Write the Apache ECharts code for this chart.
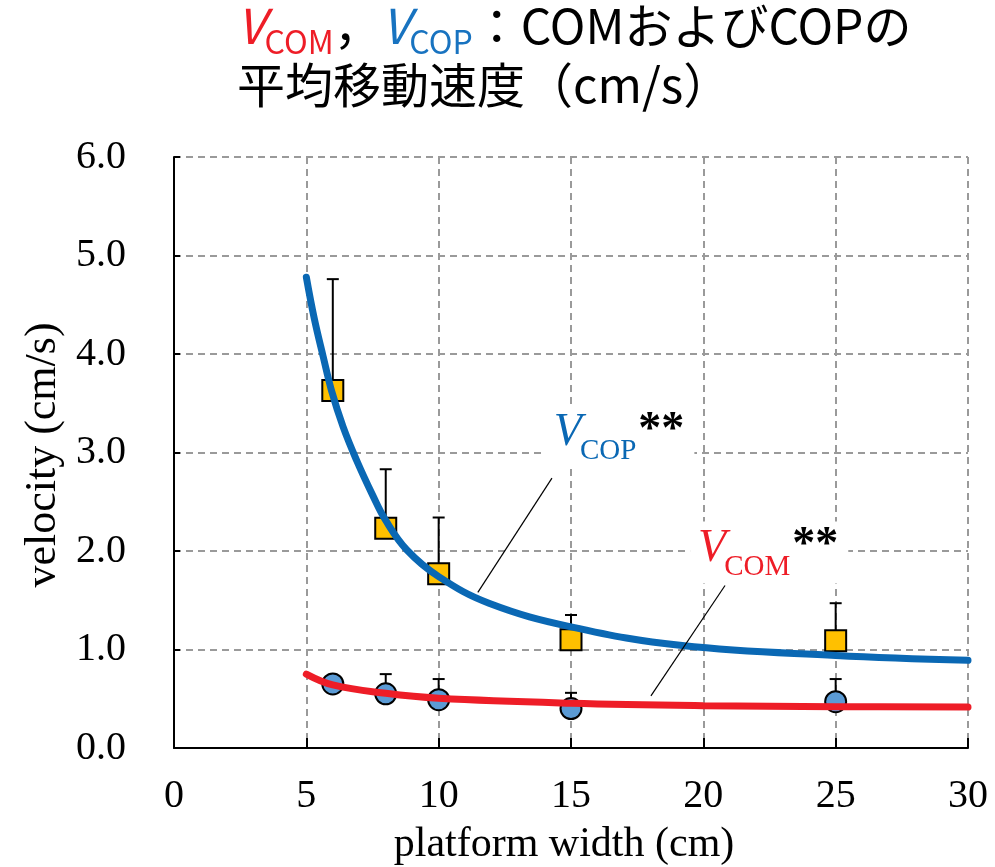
<!DOCTYPE html>
<html>
<head>
<meta charset="utf-8">
<script src="https://cdn.jsdelivr.net/npm/echarts@6/dist/echarts.min.js"></script>
<style>
  html, body { margin: 0; padding: 0; background: #fff; }
  #main { width: 995px; height: 867px; }
</style>
</head>
<body>
<div id="main"></div>
<script>
// platform width (cm) and measured velocities (cm/s)
var widths = [6, 8, 10, 15, 25];
var copMean = [3.63, 2.23, 1.77, 1.10, 1.09];
var copUpper = [4.76, 2.83, 2.34, 1.35, 1.47];
var comMean = [0.65, 0.55, 0.49, 0.40, 0.47];
var comUpper = [0.73, 0.75, 0.70, 0.56, 0.70];

// fitted curves
var copFitX = [5, 5.3, 5.64, 5.95, 6.39, 6.9, 7.5, 8.0, 8.8, 10.0, 11.9, 15.0, 19.2, 25.0, 30];
var copFitY = [4.78, 4.36, 3.97, 3.63, 3.26, 2.92, 2.57, 2.31, 2.01, 1.74, 1.47, 1.23, 1.04, 0.94, 0.89];
var comFitX = [5, 6, 8, 10, 15, 20, 25, 30];
var comFitY = [0.75, 0.64, 0.555, 0.505, 0.455, 0.43, 0.42, 0.415];

var xMin = 0, xMax = 30, xStep = 5;
var yMin = 0, yMax = 6, yStep = 1;

var chart = echarts.init(document.getElementById('main'));

function zip(a, b, c) {
    return a.map(function (v, i) { return c ? [v, b[i], c[i]] : [v, b[i]]; });
}

function renderErr(params, api) {
    var x = api.value(0);
    var lo = api.coord([x, api.value(1)]);
    var hi = api.coord([x, api.value(2)]);
    var st = { stroke: '#000', lineWidth: 2 };
    return {
        type: 'group',
        children: [
            { type: 'line', shape: { x1: lo[0], y1: lo[1], x2: hi[0], y2: hi[1] }, style: st },
            { type: 'line', shape: { x1: hi[0] - 6, y1: hi[1], x2: hi[0] + 6, y2: hi[1] }, style: st }
        ]
    };
}

var serif = '"Liberation Serif", "Times New Roman", serif';
var jp = '"Noto Sans CJK JP", "Noto Sans", sans-serif';
var blue = '#0A68B4';
var red = '#EE1D27';
var grayDash = { color: '#9a9a9a', width: 2, type: [7, 5] };

option = {
    animation: false,
    backgroundColor: '#fff',
    grid: { left: 174, right: 27, top: 157, bottom: 119 },
    xAxis: {
        type: 'value',
        min: xMin, max: xMax, interval: xStep,
        axisLine: { lineStyle: { color: '#000', width: 2 } },
        axisTick: { inside: true, length: 10, lineStyle: { color: '#000', width: 2 } },
        axisLabel: { fontFamily: serif, fontSize: 40, color: '#000', margin: 28 },
        splitLine: { show: true, lineStyle: grayDash }
    },
    yAxis: {
        type: 'value',
        min: yMin, max: yMax, interval: yStep,
        axisLine: { show: true, lineStyle: { color: '#000', width: 2 } },
        axisTick: { show: true, inside: true, length: 6, lineStyle: { color: '#000', width: 2 } },
        axisLabel: {
            fontFamily: serif, fontSize: 40, color: '#000', margin: 48,
            formatter: function (v) { return v.toFixed(1); }
        },
        splitLine: { show: true, lineStyle: grayDash }
    },
    series: [
        {
            name: 'err',
            type: 'custom',
            renderItem: renderErr,
            encode: { x: 0, y: [1, 2] },
            data: zip(widths, copMean, copUpper).concat(zip(widths, comMean, comUpper)),
            z: 1
        },
        {
            name: 'COP',
            type: 'scatter',
            symbol: 'rect',
            symbolSize: 21,
            itemStyle: { color: '#FFC000', borderColor: '#000', borderWidth: 2, opacity: 1 },
            data: zip(widths, copMean),
            z: 2
        },
        {
            name: 'COM',
            type: 'scatter',
            symbol: 'circle',
            symbolSize: 21,
            itemStyle: { color: '#5B9BD5', borderColor: '#000', borderWidth: 2, opacity: 1 },
            data: zip(widths, comMean),
            z: 2
        },
        {
            name: 'COP fit',
            type: 'line',
            smooth: 0.4,
            showSymbol: false,
            lineStyle: { color: blue, width: 7, cap: 'round' },
            data: zip(copFitX, copFitY),
            markLine: {
                silent: true, symbol: 'none', label: { show: false },
                lineStyle: { color: '#000', width: 1.2, type: 'solid' },
                data: [[{ coord: [11.48, 1.58] }, { coord: [14.28, 2.74] }]]
            },
            z: 3
        },
        {
            name: 'COM fit',
            type: 'line',
            smooth: 0.4,
            showSymbol: false,
            lineStyle: { color: red, width: 7, cap: 'round' },
            data: zip(comFitX, comFitY),
            markLine: {
                silent: true, symbol: 'none', label: { show: false },
                lineStyle: { color: '#000', width: 1.2, type: 'solid' },
                data: [[{ coord: [18.02, 0.53] }, { coord: [20.82, 1.65] }]]
            },
            z: 3
        }
    ]
};
chart.setOption(option);

// labels on the curves
function curveLabel(name, color, at) {
    var p = chart.convertToPixel({ gridIndex: 0 }, at);
    return {
        type: 'text',
        left: p[0], top: p[1],
        z: 10,
        style: {
            text: '{v|V}{s|' + name + '}{a|**}',
            backgroundColor: '#fff',
            padding: [2, 10, 2, 8],
            rich: {
                v: { fontFamily: serif, fontStyle: 'italic', fontSize: 46, fill: color, verticalAlign: 'bottom', padding: [0, 0, 10, 0] },
                s: { fontFamily: serif, fontSize: 29, fill: color, verticalAlign: 'bottom', padding: [0, 0, 0, -2] },
                a: { fontFamily: serif, fontWeight: 'bold', fontSize: 46, fill: '#000', verticalAlign: 'bottom', padding: [0, 0, 12, 2] }
            }
        }
    };
}

chart.setOption({
    graphic: [
        curveLabel('COP', blue, [14.05, 3.47]),
        curveLabel('COM', red, [19.5, 2.3]),
        {
            type: 'text',
            left: 237, top: 2,
            style: {
                text: '{v1|V}{s1|COM}{t|，}{v2|V}{s2|COP}{t|：COMおよびCOPの}\n{t2|平均移動速度（cm/s）}',
                rich: {
                    v1: { fontFamily: jp, fontStyle: 'italic', fontSize: 48, fill: red, verticalAlign: 'bottom', padding: [0, 0, 8, 0] },
                    s1: { fontFamily: jp, fontSize: 32, fill: red, verticalAlign: 'bottom' },
                    v2: { fontFamily: jp, fontStyle: 'italic', fontSize: 48, fill: '#1873C0', verticalAlign: 'bottom', padding: [0, 0, 8, 0] },
                    s2: { fontFamily: jp, fontSize: 32, fill: '#1873C0', verticalAlign: 'bottom' },
                    t: { fontFamily: jp, fontSize: 48, fill: '#000', verticalAlign: 'bottom', padding: [0, 0, 8, 0] },
                    t2: { fontFamily: jp, fontSize: 48, fill: '#000', lineHeight: 54 }
                }
            }
        },
        {
            type: 'text',
            x: 43, y: 455,
            rotation: Math.PI / 2,
            style: {
                text: 'velocity (cm/s)',
                fontFamily: serif, fontSize: 44, fill: '#000',
                align: 'center', verticalAlign: 'middle'
            }
        },
        {
            type: 'text',
            x: 564, y: 845,
            style: {
                text: 'platform width (cm)',
                fontFamily: serif, fontSize: 42, fill: '#000',
                align: 'center', verticalAlign: 'middle'
            }
        }
    ]
});
</script>
</body>
</html>
